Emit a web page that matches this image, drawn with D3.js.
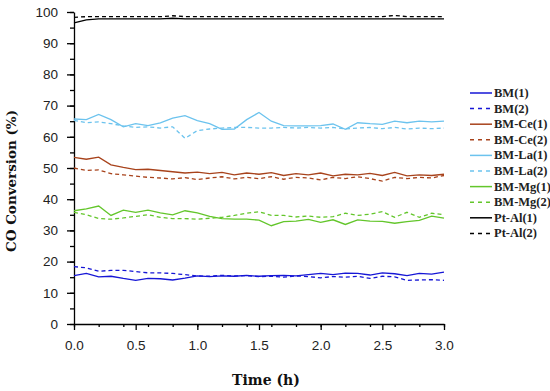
<!DOCTYPE html>
<meta charset="utf-8">
<style>
  body { margin: 0; background: #fff; }
  .tick text { font-family: "Liberation Sans", Arial, sans-serif; font-size: 13.5px; fill: #222; }
  .axis path, .axis line { stroke: #000; stroke-width: 1.3; }
</style>
<div id="chart"></div>
<script src="https://d3js.org/d3.v7.min.js"></script>
<script>
// time in hours
var times = [0, 0.1, 0.2, 0.3, 0.4, 0.5, 0.6, 0.7, 0.8, 0.9, 1.0, 1.1, 1.2, 1.3, 1.4, 1.5,
             1.6, 1.7, 1.8, 1.9, 2.0, 2.1, 2.2, 2.3, 2.4, 2.5, 2.6, 2.7, 2.8, 2.9, 3.0];

var bm1   = [15.5, 16.2, 15.1, 15.3, 14.6, 14.0, 14.6, 14.5, 14.1, 14.7, 15.4, 15.2, 15.4, 15.3, 15.6, 15.3,
             15.5, 15.6, 15.4, 15.8, 16.2, 15.8, 16.3, 16.2, 15.7, 16.4, 16.1, 15.5, 16.2, 16.0, 16.6];
var bm2   = [18.4, 18.0, 16.9, 17.2, 17.2, 16.8, 16.4, 16.4, 16.2, 15.8, 15.4, 15.3, 15.6, 15.4, 15.5, 15.2,
             15.3, 15.0, 15.4, 15.2, 14.8, 15.2, 15.0, 15.3, 14.6, 15.3, 15.1, 14.0, 14.1, 14.2, 14.0];
var ce1   = [53.4, 52.8, 53.5, 51.0, 50.2, 49.5, 49.6, 49.2, 48.8, 48.4, 48.7, 48.2, 48.6, 47.8, 48.4, 48.0,
             48.5, 47.6, 48.2, 47.8, 48.4, 47.5, 48.0, 47.8, 48.3, 47.6, 48.6, 47.5, 47.8, 47.6, 48.0];
var ce2   = [50.0, 49.2, 49.4, 48.2, 47.8, 47.4, 47.0, 46.8, 46.5, 46.9, 46.3, 46.8, 47.2, 46.5, 47.0, 46.6,
             47.2, 46.4, 47.0, 46.8, 46.2, 47.0, 46.6, 47.2, 46.6, 45.8, 47.0, 46.6, 47.0, 46.8, 47.6];
var la1   = [65.7, 65.5, 67.2, 65.5, 63.2, 64.2, 63.6, 64.5, 66.0, 66.8, 65.2, 64.2, 62.4, 62.5, 65.5, 67.8,
             65.0, 63.6, 63.5, 63.5, 63.6, 64.1, 62.4, 64.5, 64.2, 64.0, 65.0, 64.5, 65.0, 64.8, 65.0];
var la2   = [65.3, 64.5, 64.8, 64.2, 63.5, 63.0, 63.2, 62.8, 63.2, 59.5, 62.0, 62.5, 62.8, 63.0, 63.0, 62.8,
             62.8, 63.0, 62.8, 63.0, 62.8, 63.0, 62.5, 62.8, 63.0, 62.6, 63.0, 62.5, 62.8, 62.6, 62.8];
var mg1   = [36.3, 36.9, 37.8, 34.8, 36.5, 35.8, 36.5, 35.6, 35.0, 36.3, 35.6, 34.5, 33.8, 33.6, 33.6, 33.3,
             31.5, 32.8, 33.0, 33.5, 32.6, 33.4, 31.9, 33.4, 33.0, 32.9, 32.3, 32.8, 33.2, 34.6, 33.9];
var mg2   = [35.8, 35.0, 33.8, 33.6, 34.0, 34.5, 35.0, 34.2, 33.8, 33.8, 33.6, 33.9, 34.2, 34.8, 35.5, 36.0,
             34.8, 34.8, 34.3, 34.6, 34.2, 34.4, 35.5, 34.8, 35.2, 36.0, 34.2, 35.8, 34.2, 35.5, 35.0];
var pt1   = [96.5, 97.5, 97.8, 97.8, 97.8, 97.8, 97.8, 97.8, 98.0, 97.8, 97.8, 97.8, 97.8, 97.8, 97.8, 97.8,
             97.8, 97.8, 97.8, 97.8, 97.8, 97.8, 97.8, 97.8, 97.8, 97.8, 97.8, 97.8, 97.8, 97.8, 97.8];
var pt2   = [98.3, 98.5, 98.5, 98.5, 98.5, 98.5, 98.5, 98.5, 98.8, 98.5, 98.5, 98.5, 98.5, 98.5, 98.5, 98.5,
             98.5, 98.5, 98.5, 98.5, 98.5, 98.5, 98.5, 98.5, 98.5, 98.5, 98.9, 98.5, 98.5, 98.5, 98.5];

var names  = ["BM(1)", "BM(2)", "BM-Ce(1)", "BM-Ce(2)", "BM-La(1)", "BM-La(2)", "BM-Mg(1)", "BM-Mg(2)", "Pt-Al(1)", "Pt-Al(2)"];
var values = [bm1, bm2, ce1, ce2, la1, la2, mg1, mg2, pt1, pt2];
var colors = ["#1616d6", "#1616d6", "#a8431c", "#a8431c", "#6cc3ee", "#6cc3ee", "#63c62b", "#63c62b", "#000000", "#000000"];
var dashed = [false, true, false, true, false, true, false, true, false, true];

var xTicks = [0, 0.5, 1.0, 1.5, 2.0, 2.5, 3.0];
var yTicks = [0, 10, 20, 30, 40, 50, 60, 70, 80, 90, 100];

var W = 550, H = 391;
var margin = {top: 12, left: 74};
var width = 370, height = 312;

var svg = d3.select("#chart").append("svg")
    .attr("width", W)
    .attr("height", H);

var g = svg.append("g")
    .attr("transform", "translate(" + margin.left + "," + margin.top + ")");

var x = d3.scaleLinear().domain([0, 3]).range([0, width]);
var y = d3.scaleLinear().domain([0, 100]).range([height, 0]);

// minor ticks
g.append("g")
    .attr("class", "axis")
    .attr("transform", "translate(0," + height + ")")
    .call(d3.axisBottom(x).ticks(12).tickSize(3).tickFormat(""))
    .select(".domain").remove();
g.append("g")
    .attr("class", "axis")
    .call(d3.axisLeft(y).ticks(20).tickSize(4).tickFormat(""))
    .select(".domain").remove();

// major axes
g.append("g")
    .attr("class", "axis")
    .attr("transform", "translate(0," + height + ")")
    .call(d3.axisBottom(x).tickValues(xTicks).tickSize(6).tickSizeOuter(0).tickPadding(10)
        .tickFormat(d3.format(".1f")));
g.append("g")
    .attr("class", "axis")
    .call(d3.axisLeft(y).tickValues(yTicks).tickSize(7).tickSizeOuter(0).tickPadding(9));

// lines
var line = d3.line()
    .x(function(d, i) { return x(times[i]); })
    .y(function(d) { return y(d); });

values.forEach(function(v, k) {
    g.append("path")
        .datum(v)
        .attr("fill", "none")
        .attr("stroke", colors[k])
        .attr("stroke-width", 1.3)
        .attr("stroke-dasharray", dashed[k] ? "4,3" : null)
        .attr("d", line);
});

// axis titles
svg.append("text")
    .attr("transform", "translate(16,181) rotate(-90)")
    .attr("text-anchor", "middle")
    .style("font-family", "'DejaVu Serif', serif")
    .style("font-weight", "bold")
    .style("font-size", "13.5px")
    .style("fill", "#111")
    .text("CO Conversion (%)");

svg.append("text")
    .attr("x", 266)
    .attr("y", 385)
    .attr("text-anchor", "middle")
    .style("font-family", "'DejaVu Serif', serif")
    .style("font-weight", "bold")
    .style("font-size", "14px")
    .style("fill", "#111")
    .text("Time (h)");

// legend
var legend = svg.append("g").attr("transform", "translate(470,93)");
names.forEach(function(n, k) {
    var row = legend.append("g").attr("transform", "translate(0," + (k * 15.6) + ")");
    row.append("line")
        .attr("x1", 0).attr("x2", 22)
        .attr("y1", 0).attr("y2", 0)
        .attr("stroke", colors[k])
        .attr("stroke-width", 1.5)
        .attr("stroke-dasharray", dashed[k] ? "4,4" : null);
    row.append("text")
        .attr("x", 24)
        .attr("y", 4)
        .style("font-family", "'Liberation Serif', serif")
        .style("font-weight", "bold")
        .style("font-size", "12.5px")
        .style("fill", "#222")
        .text(n);
});
</script>
